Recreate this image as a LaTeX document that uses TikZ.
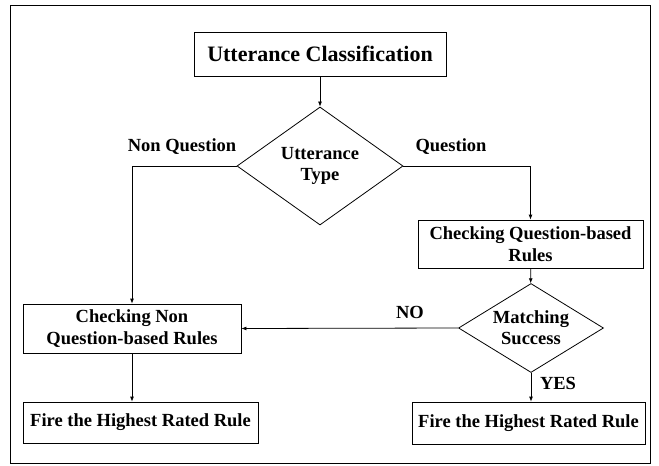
\documentclass[tikz,border=0pt]{standalone}
\usepackage{fontspec}
\setmainfont{Liberation Serif}
\usetikzlibrary{shapes.geometric,arrows.meta}

\begin{document}
\begin{tikzpicture}[x=1pt, y=-1pt, >={Latex[length=5pt,width=4pt]}, line width=0.8pt,
		box/.style={draw, rectangle, align=center, inner sep=0pt, font=\fontsize{18.5}{21.5}\selectfont\bfseries},
		decision/.style={draw, diamond, align=center, inner sep=0pt, font=\fontsize{18.5}{21}\selectfont\bfseries},
		lbl/.style={font=\fontsize{18.5}{21.5}\selectfont\bfseries}]
		\useasboundingbox (0,0) rectangle (659,466);
		\draw (10,5) rectangle (650,463);
		
		\node[box, minimum width=252pt, minimum height=44pt, font=\fontsize{22}{26}\selectfont\bfseries] (cls) at (320,54) {Utterance Classification};
		\node[decision, aspect=1.41, minimum width=166pt, minimum height=118pt] (type) at (320,166) {Utterance\\Type};
		\node[box, minimum width=225pt, minimum height=48pt] (qrules) at (530.5,244) {Checking Question-based\\Rules};
		\node[decision, aspect=1.63, minimum width=145pt, minimum height=89pt] (match) at (531,328) {Matching\\Success};
		\node[box, minimum width=218pt, minimum height=49pt] (nqrules) at (132,328.5) {Checking Non\\Question-based Rules};
		\node[box, minimum width=235pt, minimum height=41pt] (fireL) at (140.5,422.5) {Fire the Highest Rated Rule};
		\node[box, minimum width=233pt, minimum height=42pt] (fireR) at (528.5,423) {Fire the Highest Rated Rule};
		
		\node[lbl] (nq) at (182,147) {Non Question};
		\node[lbl] (q) at (451,147) {Question};
		\node[lbl] (no) at (410,312) {NO};
		\node[lbl] (yes) at (558,383) {YES};
		
		\draw[->] (cls) -- (type);
		\draw[->] (type.west) -| (nqrules.north);
		\draw[->] (type.east) -| (qrules.north);
		\draw[->] (qrules) -- (match);
		\draw[->] (match.west) -- (nqrules.east);
		\draw[->] (match.south) -- (match.south |- fireR.north);
		\draw[->] (nqrules.south) -- (nqrules.south |- fireL.north);
		
	\end{tikzpicture}
\end{document}
